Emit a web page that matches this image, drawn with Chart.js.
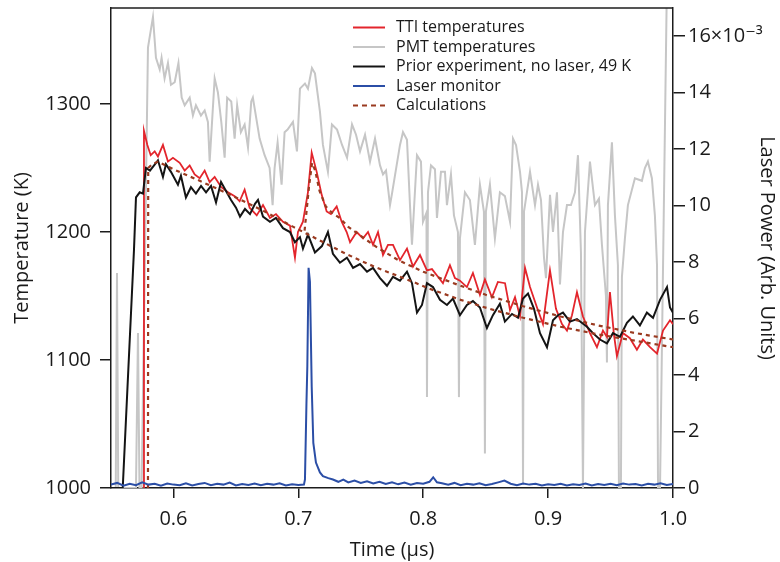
<!DOCTYPE html>
<html><head><meta charset="utf-8">
<script src="https://cdn.jsdelivr.net/npm/chart.js@4.4.1/dist/chart.umd.min.js"></script>
<style>html,body{margin:0;padding:0;background:#fff;}canvas{display:block;}</style>
</head><body>
<canvas id="c" width="780" height="562"></canvas>
<script>
// ---- tick labels / categories ----
const xTicks = [0.6, 0.7, 0.8, 0.9, 1.0];
const tempTicks = [1000, 1100, 1200, 1300];
const powerTicks = [0, 2, 4, 6, 8, 10, 12, 14, 16];
const legendOrder = ['TTI temperatures', 'PMT temperatures', 'Prior experiment, no laser, 49 K', 'Laser monitor', 'Calculations'];

// ---- series values: [time (µs), value] ----
const ttiTemps = [[0.5762,1000],[0.5764,1279],[0.5791,1268],[0.5818,1260],[0.5850,1263],[0.5876,1259],[0.5916,1268],[0.5956,1255],[0.5996,1258],[0.6050,1254],[0.6090,1248],[0.6130,1252],[0.6170,1245],[0.6210,1242],[0.6250,1248],[0.6290,1239],[0.6330,1243],[0.6383,1235],[0.6437,1231],[0.6490,1228],[0.6530,1224],[0.6570,1233],[0.6610,1219],[0.6667,1213],[0.6717,1221],[0.6773,1211],[0.6821,1214],[0.6877,1208],[0.6933,1205],[0.6973,1180],[0.6997,1200],[0.7037,1208],[0.7077,1231],[0.7107,1262],[0.7147,1247],[0.7187,1229],[0.7227,1216],[0.7261,1214],[0.7307,1220],[0.7347,1208],[0.7387,1200],[0.7414,1192],[0.7467,1200],[0.7518,1195],[0.7558,1200],[0.7598,1190],[0.7638,1200],[0.7678,1182],[0.7718,1190],[0.7758,1190],[0.7814,1178],[0.7870,1187],[0.7918,1173],[0.7974,1182],[0.8030,1170],[0.8070,1171],[0.8118,1165],[0.8158,1160],[0.8214,1174],[0.8254,1164],[0.8294,1162],[0.8350,1157],[0.8398,1168],[0.8454,1151],[0.8494,1163],[0.8550,1149],[0.8598,1161],[0.8655,1160],[0.8695,1139],[0.8735,1149],[0.8775,1134],[0.8815,1172],[0.8855,1157],[0.8911,1141],[0.8959,1128],[0.9015,1170],[0.9063,1140],[0.9111,1128],[0.9151,1123],[0.9191,1135],[0.9231,1153],[0.9279,1134],[0.9335,1121],[0.9391,1110],[0.9439,1123],[0.9471,1118],[0.9495,1153],[0.9527,1120],[0.9551,1103],[0.9599,1121],[0.9655,1117],[0.9711,1108],[0.9759,1116],[0.9816,1110],[0.9872,1105],[0.9920,1123],[0.9976,1131],[1.0000,1128]];

const pmtTemps = [[0.5500,1000],[0.5538,1000],[0.5548,1168],[0.5558,1000],[0.5700,1000],[0.5716,1121],[0.5728,1000],[0.5745,1000],[0.5796,1344],[0.5836,1368],[0.5860,1336],[0.5890,1327],[0.5905,1336],[0.5929,1320],[0.5956,1332],[0.5980,1315],[0.6010,1317],[0.6040,1332],[0.6066,1305],[0.6090,1299],[0.6130,1305],[0.6156,1291],[0.6180,1299],[0.6220,1291],[0.6250,1295],[0.6276,1286],[0.6290,1255],[0.6330,1320],[0.6356,1309],[0.6383,1286],[0.6410,1258],[0.6430,1305],[0.6463,1302],[0.6490,1273],[0.6510,1299],[0.6540,1278],[0.6570,1284],[0.6597,1266],[0.6623,1302],[0.6636,1305],[0.6690,1273],[0.6730,1260],[0.6770,1250],[0.6794,1221],[0.6810,1250],[0.6834,1270],[0.6866,1237],[0.6890,1278],[0.6914,1280],[0.6957,1286],[0.6989,1263],[0.7013,1312],[0.7053,1316],[0.7077,1312],[0.7109,1328],[0.7133,1324],[0.7173,1294],[0.7197,1268],[0.7237,1247],[0.7269,1284],[0.7310,1280],[0.7350,1268],[0.7390,1258],[0.7430,1284],[0.7462,1276],[0.7494,1263],[0.7534,1276],[0.7574,1255],[0.7614,1273],[0.7654,1252],[0.7678,1245],[0.7702,1248],[0.7734,1221],[0.7750,1230],[0.7814,1268],[0.7838,1278],[0.7870,1272],[0.7894,1221],[0.7910,1190],[0.7950,1260],[0.7982,1255],[0.7998,1208],[0.8026,1215],[0.8030,1071],[0.8038,1231],[0.8062,1252],[0.8094,1249],[0.8110,1211],[0.8142,1247],[0.8174,1247],[0.8190,1221],[0.8222,1245],[0.8246,1213],[0.8278,1200],[0.8286,1071],[0.8294,1195],[0.8334,1231],[0.8374,1225],[0.8414,1190],[0.8454,1237],[0.8486,1216],[0.8494,1027],[0.8502,1216],[0.8534,1237],[0.8574,1195],[0.8614,1231],[0.8654,1228],[0.8695,1208],[0.8719,1273],[0.8743,1268],[0.8775,1247],[0.8791,1231],[0.8799,1003],[0.8807,1216],[0.8855,1247],[0.8895,1221],[0.8919,1237],[0.8943,1225],[0.8967,1180],[0.8983,1164],[0.9015,1229],[0.9039,1200],[0.9071,1231],[0.9095,1159],[0.9119,1200],[0.9151,1221],[0.9183,1221],[0.9215,1231],[0.9239,1260],[0.9263,1184],[0.9279,1000],[0.9295,1200],[0.9335,1255],[0.9375,1221],[0.9407,1226],[0.9431,1190],[0.9463,1150],[0.9471,1098],[0.9479,1221],[0.9511,1270],[0.9535,1213],[0.9559,1174],[0.9567,1000],[0.9583,1000],[0.9591,1165],[0.9615,1195],[0.9639,1221],[0.9695,1242],[0.9751,1240],[0.9775,1250],[0.9799,1255],[0.9831,1242],[0.9855,1213],[0.9872,1174],[0.9880,1000],[0.9896,1000],[0.9952,1400],[1.0000,1400]];

const priorTemps = [[0.5500,1000],[0.5594,1000],[0.5684,1186],[0.5700,1227],[0.5730,1231],[0.5756,1230],[0.5780,1250],[0.5812,1248],[0.5876,1256],[0.5916,1243],[0.5940,1253],[0.5980,1247],[0.6036,1237],[0.6060,1244],[0.6100,1227],[0.6140,1235],[0.6180,1230],[0.6221,1236],[0.6261,1231],[0.6301,1236],[0.6341,1223],[0.6381,1239],[0.6421,1232],[0.6461,1225],[0.6501,1219],[0.6533,1212],[0.6573,1218],[0.6613,1214],[0.6653,1222],[0.6677,1225],[0.6717,1212],[0.6773,1208],[0.6821,1211],[0.6877,1203],[0.6933,1200],[0.6973,1192],[0.7013,1196],[0.7037,1187],[0.7077,1198],[0.7133,1184],[0.7189,1189],[0.7237,1200],[0.7277,1183],[0.7333,1176],[0.7389,1180],[0.7438,1172],[0.7494,1175],[0.7550,1169],[0.7598,1172],[0.7654,1164],[0.7710,1158],[0.7758,1165],[0.7814,1162],[0.7870,1169],[0.7910,1160],[0.7950,1137],[0.7990,1143],[0.8030,1160],[0.8078,1157],[0.8134,1147],[0.8190,1143],[0.8238,1148],[0.8294,1135],[0.8350,1143],[0.8398,1146],[0.8454,1141],[0.8510,1125],[0.8558,1135],[0.8614,1144],[0.8654,1130],[0.8711,1136],[0.8759,1133],[0.8799,1148],[0.8839,1152],[0.8887,1140],[0.8935,1121],[0.8991,1110],[0.9039,1131],[0.9079,1135],[0.9119,1137],[0.9175,1130],[0.9231,1132],[0.9311,1126],[0.9359,1121],[0.9415,1116],[0.9471,1113],[0.9519,1121],[0.9575,1118],[0.9631,1129],[0.9679,1134],[0.9735,1127],[0.9791,1137],[0.9840,1133],[0.9896,1147],[0.9952,1157],[0.9976,1141],[1.0000,1137]];

const laserPower = [[0.550,0.12],[0.555,0.18],[0.560,0.08],[0.565,0.15],[0.570,0.10],[0.575,0.20],[0.580,0.12],[0.585,0.15],[0.590,0.08],[0.595,0.16],[0.600,0.12],[0.605,0.10],[0.610,0.17],[0.615,0.09],[0.620,0.14],[0.625,0.18],[0.630,0.10],[0.635,0.15],[0.640,0.12],[0.645,0.19],[0.650,0.09],[0.655,0.14],[0.660,0.11],[0.665,0.16],[0.670,0.10],[0.675,0.15],[0.680,0.12],[0.685,0.17],[0.690,0.09],[0.695,0.13],[0.700,0.11],[0.7045,0.12],[0.7053,0.30],[0.7065,3.0],[0.7072,4.3],[0.7082,7.8],[0.7093,7.3],[0.7107,3.6],[0.7120,1.6],[0.7141,0.9],[0.7173,0.55],[0.7197,0.42],[0.7240,0.35],[0.7277,0.30],[0.732,0.22],[0.736,0.30],[0.740,0.20],[0.745,0.26],[0.750,0.18],[0.755,0.24],[0.760,0.16],[0.765,0.22],[0.770,0.14],[0.775,0.20],[0.780,0.13],[0.785,0.19],[0.790,0.12],[0.795,0.18],[0.800,0.15],[0.805,0.22],[0.808,0.38],[0.811,0.20],[0.815,0.17],[0.820,0.12],[0.825,0.18],[0.830,0.10],[0.835,0.15],[0.840,0.12],[0.845,0.17],[0.850,0.10],[0.855,0.14],[0.860,0.20],[0.865,0.26],[0.870,0.15],[0.875,0.10],[0.880,0.16],[0.885,0.12],[0.890,0.15],[0.895,0.09],[0.900,0.13],[0.905,0.11],[0.910,0.15],[0.915,0.09],[0.920,0.13],[0.925,0.11],[0.930,0.16],[0.935,0.09],[0.940,0.14],[0.945,0.11],[0.950,0.15],[0.955,0.10],[0.960,0.16],[0.965,0.12],[0.970,0.14],[0.975,0.09],[0.980,0.15],[0.985,0.12],[0.990,0.17],[0.995,0.11],[1.000,0.14]];

const calcNoLaser = [[0.5796,1000],[0.5798,1250],[0.5830,1253],[0.5876,1255],[0.6000,1249],[0.6210,1240],[0.6480,1228],[0.6750,1215],[0.6960,1204],[0.7100,1197],[0.7360,1184],[0.7490,1178],[0.7630,1172],[0.7920,1161],[0.8040,1156],[0.8300,1147],[0.8530,1140],[0.8800,1133],[0.9100,1126],[0.9400,1120],[0.9700,1115],[1.0000,1110]];

const calcLaser = [[0.7050,1201],[0.7085,1235],[0.7110,1254],[0.7135,1248],[0.7170,1232],[0.7220,1220],[0.7270,1215],[0.7330,1211],[0.7400,1204],[0.7500,1197],[0.7630,1188],[0.7800,1178],[0.8000,1169],[0.8270,1159],[0.8500,1151],[0.8800,1142],[0.9100,1134],[0.9400,1127],[0.9700,1121],[1.0000,1116]];

// ---- chart ----
const toXY = arr => arr.map(p => ({x: p[0], y: p[1]}));
const AX = '#1c1c1c';
const FONT = "'Open Sans', 'DejaVu Sans', sans-serif";

const legendPlugin = {
  id: 'panelLegend',
  afterDatasetsDraw(chart) {
    const ctx = chart.ctx, a = chart.chartArea;
    ctx.save();
    ctx.strokeStyle = AX; ctx.lineWidth = 1.5;
    ctx.beginPath(); ctx.moveTo(a.left, a.top); ctx.lineTo(a.right, a.top); ctx.stroke();
    legendOrder.forEach((lab, i) => {
      const ds = chart.data.datasets.find(d => d.label === lab);
      const y = a.top + 19.5 + i * 19.5;
      const x0 = a.left + 242;
      ctx.beginPath();
      ctx.strokeStyle = ds.borderColor; ctx.lineWidth = 2;
      ctx.setLineDash(ds.borderDash ? [5, 4] : []);
      ctx.moveTo(x0, y); ctx.lineTo(x0 + 32, y); ctx.stroke();
      ctx.setLineDash([]);
      ctx.fillStyle = '#1a1a1a';
      ctx.font = "16px " + FONT;
      ctx.textBaseline = 'middle'; ctx.textAlign = 'left';
      ctx.fillText(lab, x0 + 43, y);
    });
    ctx.restore();
  }
};

const zeroPad = s => { s.paddingTop = 0; s.paddingBottom = 0; s.paddingLeft = 0; s.paddingRight = 0; };

function draw() {
  Chart.defaults.font.family = FONT;
  Chart.defaults.font.size = 20;
  Chart.defaults.color = '#1a1a1a';
  new Chart(document.getElementById('c'), {
    type: 'line',
    data: {
      datasets: [
        {label: 'Laser monitor', data: toXY(laserPower), yAxisID: 'y2', borderColor: '#2b4ea6', borderWidth: 2},
        {label: 'Calculations', data: toXY(calcLaser), yAxisID: 'y', borderColor: '#9a3a20', borderWidth: 2.2, borderDash: [4, 4]},
        {label: 'Calculations (no laser)', data: toXY(calcNoLaser), yAxisID: 'y', borderColor: '#9a3a20', borderWidth: 2.2, borderDash: [4, 4]},
        {label: 'Prior experiment, no laser, 49 K', data: toXY(priorTemps), yAxisID: 'y', borderColor: '#141414', borderWidth: 2},
        {label: 'TTI temperatures', data: toXY(ttiTemps), yAxisID: 'y', borderColor: '#e3252c', borderWidth: 1.8},
        {label: 'PMT temperatures', data: toXY(pmtTemps), yAxisID: 'y', borderColor: '#c6c6c6', borderWidth: 2}
      ]
    },
    options: {
      responsive: false,
      devicePixelRatio: 1,
      animation: false,
      events: [],
      layout: {padding: {top: 8, left: 0, right: 0, bottom: 0}},
      elements: {point: {radius: 0}, line: {tension: 0}},
      plugins: {legend: {display: false}, tooltip: {enabled: false}},
      scales: {
        x: {
          type: 'linear', position: 'bottom', min: 0.55, max: 1.0,
          afterBuildTicks: s => { s.ticks = xTicks.map(v => ({value: v})); },
          afterFit: s => { s.height = 74; zeroPad(s); },
          grid: {drawOnChartArea: false, drawTicks: true, tickLength: 10, color: AX, lineWidth: 1.5},
          border: {display: true, color: AX, width: 1.5},
          ticks: {padding: 9, maxRotation: 0, autoSkip: false, callback: v => Number(v).toFixed(1)},
          title: {display: true, text: 'Time (µs)', padding: {top: 0, bottom: 0}}
        },
        y: {
          type: 'linear', position: 'left', min: 1000, max: 1375,
          afterBuildTicks: s => { s.ticks = tempTicks.map(v => ({value: v})); },
          afterFit: s => { s.width = 111; zeroPad(s); },
          grid: {drawOnChartArea: false, drawTicks: true, tickLength: 11, color: AX, lineWidth: 1.5},
          border: {display: true, color: AX, width: 1.5},
          ticks: {padding: 9, callback: v => String(v)},
          title: {display: true, text: 'Temperature (K)', padding: {top: 10, bottom: 0}}
        },
        y2: {
          type: 'linear', position: 'right', min: 0, max: 17,
          afterBuildTicks: s => { s.ticks = powerTicks.map(v => ({value: v})); },
          afterFit: s => { s.width = 107; zeroPad(s); },
          grid: {drawOnChartArea: false, drawTicks: true, tickLength: 12, color: AX, lineWidth: 1.5},
          border: {display: true, color: AX, width: 1.5},
          ticks: {padding: 3, callback: v => (v === 16 ? '16×10⁻³' : String(v))},
          title: {display: true, text: 'Laser Power (Arb. Units)', padding: {top: 1, bottom: 0}}
        }
      }
    },
    plugins: [legendPlugin]
  });
}
if (document.fonts && document.fonts.load) {
  document.fonts.load("20px 'Open Sans'").then(draw, draw);
} else { draw(); }
</script>
</body></html>
